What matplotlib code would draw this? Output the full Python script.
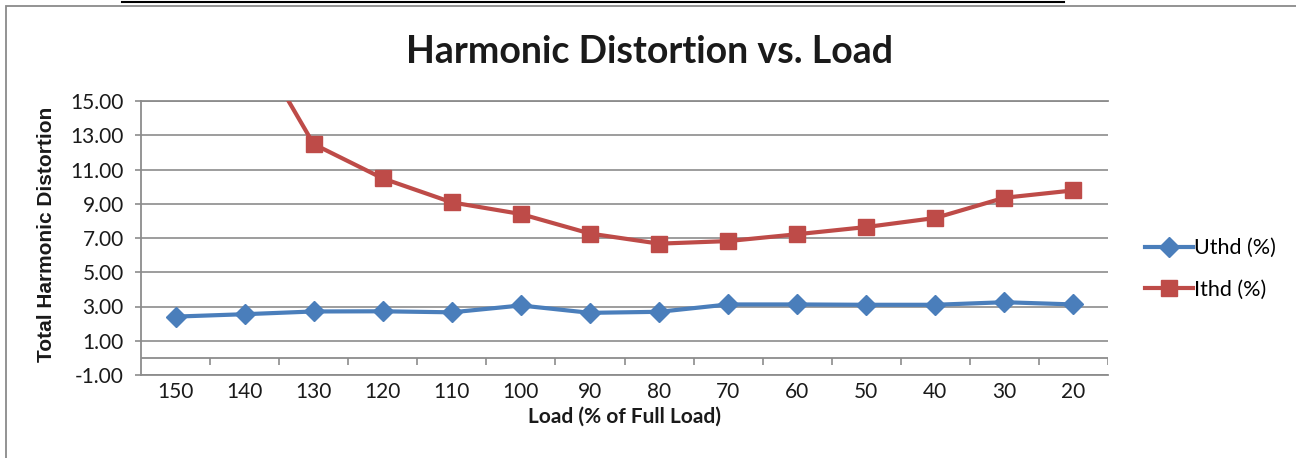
import matplotlib
matplotlib.use("Agg")
import matplotlib.pyplot as plt
import numpy as np
from matplotlib.lines import Line2D
from matplotlib.patches import Rectangle
from matplotlib.ticker import FormatStrFormatter

# ---- data ----
loads = ["150", "140", "130", "120", "110", "100", "90", "80", "70", "60", "50", "40", "30", "20"]
uthd = [2.41, 2.55, 2.71, 2.72, 2.66, 3.06, 2.63, 2.69, 3.12, 3.12, 3.10, 3.10, 3.25, 3.12]
ithd = [24.0, 19.4, 12.48, 10.48, 9.08, 8.40, 7.26, 6.67, 6.82, 7.22, 7.64, 8.17, 9.35, 9.78]
series_names = ["Uthd (%)", "Ithd (%)"]
title = "Harmonic Distortion vs. Load"
xlabel = "Load (% of Full Load)"
ylabel = "Total Harmonic Distortion"
y_ticks = [-1, 1, 3, 5, 7, 9, 11, 13, 15]

W, H = 1296, 458
BLUE = "#4A7EBB"
RED = "#BE4B48"
GRID = "#8C8C8C"
TXT = "#1a1a1a"
FONT = "Lato"

fig = plt.figure(figsize=(W / 100, H / 100), dpi=100)

def fx(px):
    return px / W

def fy(py):
    return 1 - py / H

# document line and chart frame
fig.add_artist(Line2D([fx(122), fx(1064)], [fy(1.5), fy(1.5)], color="black", lw=1.5))
fig.add_artist(Rectangle((fx(5.5), fy(470)), fx(1400), fy(6) - fy(470), fill=False,
                         edgecolor="#8a8a8a", lw=1.3))

ax = fig.add_axes([fx(141), fy(375), fx(1108 - 141), fy(101) - fy(375)])
n = len(loads)
x = np.arange(n)
ax.set_xlim(-0.5, n - 0.5)
ax.set_ylim(y_ticks[0], y_ticks[-1])
ax.set_yticks(y_ticks)
ax.yaxis.set_major_formatter(FormatStrFormatter("%.2f"))
ax.yaxis.grid(True, color=GRID, lw=1.2)
ax.set_axisbelow(True)
ax.spines["right"].set_visible(False)
for s in ["left", "top", "bottom"]:
    ax.spines[s].set_color(GRID)
    ax.spines[s].set_linewidth(1.3)
ax.tick_params(axis="y", direction="out", length=4.5, color=GRID, width=1.2,
               labelsize=15, labelcolor=TXT, pad=8)
ax.set_xticks(x)
ax.set_xticklabels(loads)
ax.tick_params(axis="x", length=0, labelsize=15, labelcolor=TXT, pad=5)
for lab in ax.get_xticklabels() + ax.get_yticklabels():
    lab.set_fontfamily(FONT)

# horizontal axis at zero with category-boundary ticks
ax.axhline(0, color=GRID, lw=1.3, zorder=1)
ax.vlines(np.arange(1, n + 1) - 0.5, -0.42, 0, color=GRID, lw=1.2, zorder=1)

l1, = ax.plot(x, uthd, color=BLUE, lw=3, marker="D", ms=10.5, mec=BLUE, mfc=BLUE,
              label=series_names[0], zorder=3)
l2, = ax.plot(x, ithd, color=RED, lw=3, marker="s", ms=12, mec=RED, mfc=RED,
              label=series_names[1], zorder=3)

fig.legend(handles=[l1, l2], loc="center left", bbox_to_anchor=(fx(1126), fy(269)),
           frameon=False, prop={"family": FONT, "size": 15.5}, handlelength=2.2,
           handletextpad=0.05, labelspacing=1.0)

fig.text(fx(650), fy(52), title, ha="center", va="center", fontsize=27,
         fontweight="bold", family=FONT, color=TXT)
fig.text(fx(624), fy(417), xlabel, ha="center", va="center", fontsize=15,
         fontweight="bold", family=FONT, color=TXT)
fig.text(fx(47), fy(234), ylabel, ha="center", va="center", rotation=90, fontsize=15,
         fontweight="bold", family="Liberation Sans", color=TXT)

fig.savefig("out.png", dpi=100)
